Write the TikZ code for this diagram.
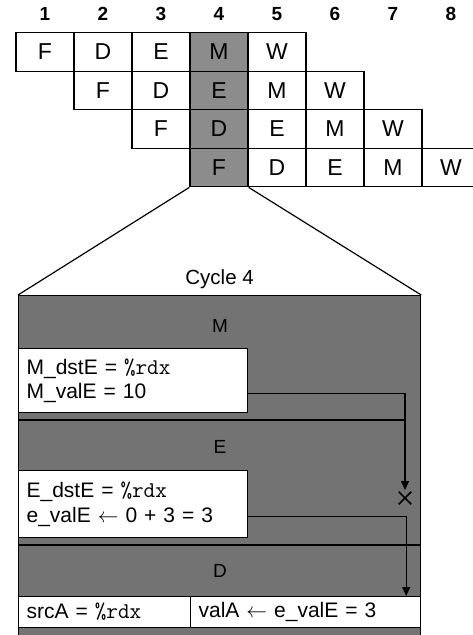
\documentclass[tikz,border=0pt]{standalone}
\usepackage{fontspec}
\setmainfont{Liberation Sans}
\usepackage{tikz}
\usetikzlibrary{positioning,arrows.meta,shapes.misc}
\newcommand{\rdxreg}{{\fontsize{22.5}{23}\selectfont\texttt{\%rdx}}}

\begin{document}
\begin{tikzpicture}[x=1pt,y=-1pt,
    cell/.style={rectangle,draw,line width=1.2pt,minimum width=58pt,minimum height=38.5pt,inner sep=0pt,font=\fontsize{23}{25}\selectfont},
    reg/.style={rectangle,draw,line width=1.2pt,fill=white,anchor=north west,inner xsep=8pt,inner ysep=0pt,align=left,font=\fontsize{21}{24.5}\selectfont},
    wire/.style={line width=1.2pt,-{Triangle[length=9pt,width=8pt]}}]
\useasboundingbox (0,0) rectangle (473,635);

% Cycle numbers
\foreach \c in {1,...,8}
  \node[font=\fontsize{19}{21}\selectfont\bfseries] (n\c) at (45+58*\c-58,14) {\c};

% Pipeline rows
\foreach \r in {1,...,4} {
  \foreach \s [count=\k] in {F,D,E,M,W} {
    \pgfmathtruncatemacro\c{\r+\k-1}
    \def\cellfill{white}
    \ifnum\c=4 \def\cellfill{black!45}\fi
    \node[cell,fill=\cellfill] (r\r c\c) at (45+58*\c-58,52+38.5*\r-38.5) {\s};
  }
}

% Cycle 4 detail
\node[rectangle,draw,line width=1.2pt,fill=black!55,minimum width=402pt,minimum height=360pt,anchor=north west] (cyc) at (18,295) {};
\draw[line width=1.2pt] (r4c4.south west) -- (cyc.north west);
\draw[line width=1.2pt] (r4c4.south east) -- (cyc.north east);
\node[font=\fontsize{20.5}{22}\selectfont,above=3pt of cyc.north] (title) {Cycle 4};

\node[font=\fontsize{19}{21}\selectfont] (mlab) at (220,326) {M};
\node[font=\fontsize{19}{21}\selectfont] (elab) at (220,447) {E};
\node[font=\fontsize{19}{21}\selectfont] (dlab) at (220,571) {D};

\draw[line width=1.2pt] (18,420) -- (405,420);
\draw[line width=1.2pt] (18,545) -- (420,545);

\node[reg,minimum width=229pt,minimum height=64pt,text width=213pt] (mreg) at (18,348)
  {M\_dstE = \rdxreg\\M\_valE = 10};
\node[reg,minimum width=229pt,minimum height=67pt,text width=213pt] (ereg) at (18,470)
  {E\_dstE = \rdxreg\\e\_valE $\leftarrow$ 0 + 3 = 3};
\node[reg,minimum width=172pt,minimum height=31pt,text width=156pt] (srca) at (18,596)
  {srcA = \rdxreg};
\node[reg,minimum width=230pt,minimum height=31pt,text width=214pt] (vala) at (190,596)
  {valA $\leftarrow$ e\_valE = 3};

% Forwarding
\coordinate (mstop) at (405,490);
\draw[wire] ([yshift=-13pt]mreg.east) -| (mstop);
\node[cross out,draw,line width=1.6pt,minimum size=11pt,inner sep=0pt] (blk) at (405,498) {};
\draw[wire] ([yshift=-12.5pt]ereg.east) -| ([xshift=-15pt]vala.north east);

\end{tikzpicture}
\end{document}
